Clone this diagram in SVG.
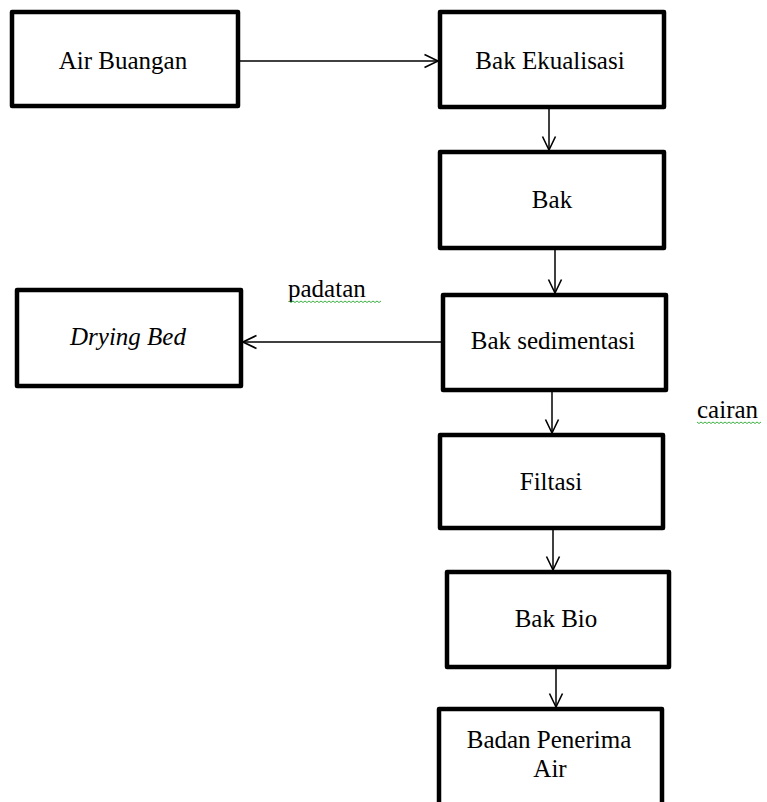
<svg xmlns="http://www.w3.org/2000/svg" width="767" height="802" viewBox="0 0 767 802">
  <style>
    .box { fill: #ffffff; stroke: #000000; stroke-width: 4.5; stroke-linejoin: round; }
    .lbl { font-family: "Liberation Serif", "Times New Roman", serif; font-size: 25px; fill: #000000; text-anchor: middle; }
    .note { font-family: "Liberation Serif", "Times New Roman", serif; font-size: 25px; fill: #000000; }
    .flow { stroke: #000000; stroke-width: 1.5; fill: none; marker-end: url(#open); }
    .squiggle { stroke: #3cb043; stroke-width: 1; fill: none; }
  </style>
  <defs>
    <!-- open V arrowhead used by every connector -->
    <marker id="open" viewBox="0 0 16 16" refX="14.5" refY="8" markerWidth="16" markerHeight="16" markerUnits="userSpaceOnUse" orient="auto">
      <path d="M1,1.5 L14.5,8 L1,14.5" fill="none" stroke="#000000" stroke-width="1.6"/>
    </marker>
  </defs>
  <rect width="767" height="802" fill="#ffffff"/>

  <g id="connectors">
    <line class="flow" x1="238" y1="61" x2="438" y2="61"/>
    <line class="flow" x1="549" y1="107" x2="549" y2="150"/>
    <line class="flow" x1="555" y1="248" x2="555" y2="293"/>
    <line class="flow" x1="443" y1="342" x2="243" y2="342"/>
    <line class="flow" x1="552" y1="390" x2="552" y2="433"/>
    <line class="flow" x1="553" y1="529" x2="553" y2="570"/>
    <line class="flow" x1="556" y1="667" x2="556" y2="707"/>
  </g>

  <g id="air-buangan">
    <rect class="box" x="12" y="12" width="226" height="94"/>
    <text class="lbl" x="123" y="69">Air Buangan</text>
  </g>
  <g id="bak-ekualisasi">
    <rect class="box" x="440" y="12" width="224" height="95"/>
    <text class="lbl" x="550" y="69">Bak Ekualisasi</text>
  </g>
  <g id="bak">
    <rect class="box" x="440" y="152" width="224" height="96"/>
    <text class="lbl" x="552" y="208">Bak</text>
  </g>
  <g id="bak-sedimentasi">
    <rect class="box" x="443" y="295" width="223" height="95"/>
    <text class="lbl" x="553" y="349">Bak sedimentasi</text>
  </g>
  <g id="drying-bed">
    <rect class="box" x="17" y="290" width="224" height="96"/>
    <text class="lbl" x="128" y="345" font-style="italic">Drying Bed</text>
  </g>
  <g id="filtasi">
    <rect class="box" x="440" y="435" width="223" height="93"/>
    <text class="lbl" x="551" y="490">Filtasi</text>
  </g>
  <g id="bak-bio">
    <rect class="box" x="447" y="572" width="222" height="95"/>
    <text class="lbl" x="556" y="627">Bak Bio</text>
  </g>
  <g id="badan-penerima-air">
    <rect class="box" x="439" y="709" width="223" height="110"/>
    <text class="lbl" x="549" y="748">Badan Penerima</text>
    <text class="lbl" x="550" y="777">Air</text>
  </g>

  <g id="labels">
    <text class="note" x="288" y="297">padatan</text>
    <path class="squiggle" d="M289,301 l2,1.5 l2,-1.5 l2,1.5 l2,-1.5 l2,1.5 l2,-1.5 l2,1.5 l2,-1.5 l2,1.5 l2,-1.5 l2,1.5 l2,-1.5 l2,1.5 l2,-1.5 l2,1.5 l2,-1.5 l2,1.5 l2,-1.5 l2,1.5 l2,-1.5 l2,1.5 l2,-1.5 l2,1.5 l2,-1.5 l2,1.5 l2,-1.5 l2,1.5 l2,-1.5 l2,1.5 l2,-1.5 l2,1.5 l2,-1.5 l2,1.5 l2,-1.5 l2,1.5 l2,-1.5 l2,1.5 l2,-1.5 l2,1.5 l2,-1.5 l2,1.5 l2,-1.5 l2,1.5 l2,-1.5 l2,1.5 l2,-1.5"/>
    <text class="note" x="697" y="418">cairan</text>
    <path class="squiggle" d="M697,422 l2,1.5 l2,-1.5 l2,1.5 l2,-1.5 l2,1.5 l2,-1.5 l2,1.5 l2,-1.5 l2,1.5 l2,-1.5 l2,1.5 l2,-1.5 l2,1.5 l2,-1.5 l2,1.5 l2,-1.5 l2,1.5 l2,-1.5 l2,1.5 l2,-1.5 l2,1.5 l2,-1.5 l2,1.5 l2,-1.5 l2,1.5 l2,-1.5 l2,1.5 l2,-1.5 l2,1.5 l2,-1.5 l2,1.5 l2,-1.5"/>
  </g>
</svg>
